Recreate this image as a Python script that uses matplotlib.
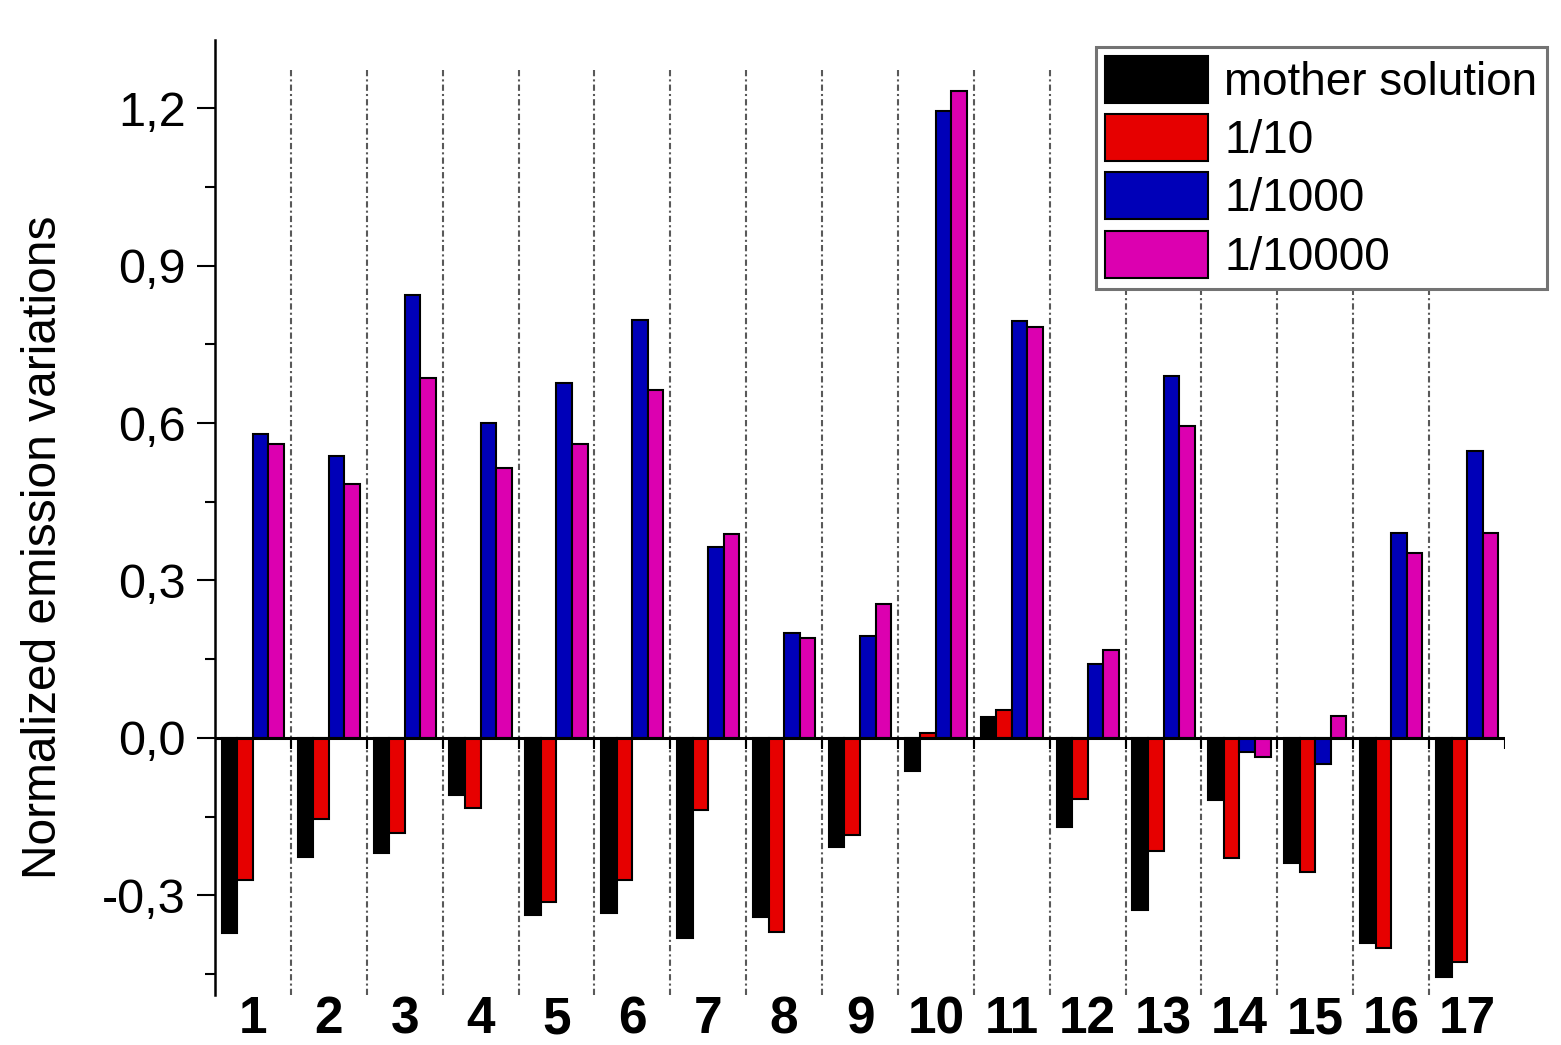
import numpy as np
import matplotlib
matplotlib.use("Agg")
import matplotlib.pyplot as plt

plt.rcParams["font.family"] = ["Liberation Sans", "DejaVu Sans"]

samples = [str(i) for i in range(1, 18)]
series_names = ["mother solution", "1/10", "1/1000", "1/10000"]
colors = ["#000000", "#e60000", "#0000b8", "#dc00b0"]

mother = [-0.371, -0.227, -0.219, -0.109, -0.337, -0.333, -0.381, -0.341, -0.208,
          -0.063, 0.040, -0.170, -0.328, -0.118, -0.238, -0.390, -0.455]
dil_10 = [-0.270, -0.154, -0.181, -0.133, -0.312, -0.270, -0.137, -0.370, -0.185,
          0.010, 0.053, -0.116, -0.215, -0.229, -0.255, -0.400, -0.427]
dil_1000 = [0.579, 0.537, 0.844, 0.600, 0.676, 0.796, 0.364, 0.200, 0.194,
            1.194, 0.794, 0.141, 0.690, -0.027, -0.050, 0.390, 0.547]
dil_10000 = [0.560, 0.484, 0.686, 0.514, 0.560, 0.663, 0.389, 0.190, 0.255,
             1.232, 0.783, 0.168, 0.594, -0.036, 0.042, 0.352, 0.390]

yticks = [-0.3, 0.0, 0.3, 0.6, 0.9, 1.2]
ytick_labels = ["-0,3", "0,0", "0,3", "0,6", "0,9", "1,2"]

fig = plt.figure(figsize=(15.61, 10.45), dpi=100)
W, H = 1561, 1045
ax = fig.add_axes([215 / W, 1 - 995 / H, (1505 - 215) / W, (995 - 40) / H])

x = np.arange(1, len(samples) + 1)
width = 0.205
data = [mother, dil_10, dil_1000, dil_10000]
for i, (vals, name, c) in enumerate(zip(data, series_names, colors)):
    ax.bar(x + (i - 1.5) * width, vals, width, color=c, edgecolor="black",
           linewidth=1.5, label=name, zorder=3)

ax.set_xlim(0.5, 17.5)
ax.set_ylim(-0.49, 1.33)

# group separators
seps = np.arange(1.5, 17.5, 1.0)
ax.vlines(seps, -0.49, 1.272, colors="0.35", linestyles=(0, (3, 1.5, 1, 1.5)),
          linewidth=1.5, zorder=1)
# zero line with small ticks
ax.axhline(0, color="black", linewidth=2.2, zorder=4)
ax.vlines(np.append(seps, 17.5), -0.022, 0, colors="black", linewidth=1.5, zorder=4)

for s in ["top", "right", "bottom"]:
    ax.spines[s].set_visible(False)
ax.spines["left"].set_linewidth(1.8)

ax.set_yticks(yticks)
ax.set_yticklabels(ytick_labels)
ax.set_yticks(np.arange(-0.45, 1.3, 0.3), minor=True)
ax.tick_params(axis="y", which="major", length=13, width=1.5, labelsize=35, pad=8)
ax.tick_params(axis="y", which="minor", length=7, width=1.5)

ax.set_xticks(x)
ax.set_xticklabels(samples, fontweight="bold")
ax.tick_params(axis="x", length=0, labelsize=37, pad=0)

fig.text(44 / W, 1 - 547 / H, "Normalized emission variations", rotation=90,
         ha="center", va="center", fontsize=34.5)

leg = ax.legend(loc="upper left", bbox_to_anchor=(1096 / W, 1 - 47 / H),
                bbox_transform=fig.transFigure, fontsize=33, frameon=True,
                fancybox=False, edgecolor="0.45", framealpha=1,
                handlelength=2.25, handleheight=1.2, handletextpad=0.35,
                labelspacing=0.2, borderpad=0.2, borderaxespad=0)
leg.get_frame().set_linewidth(2.2)
leg.set_zorder(10)

fig.savefig("out.png", dpi=100)
